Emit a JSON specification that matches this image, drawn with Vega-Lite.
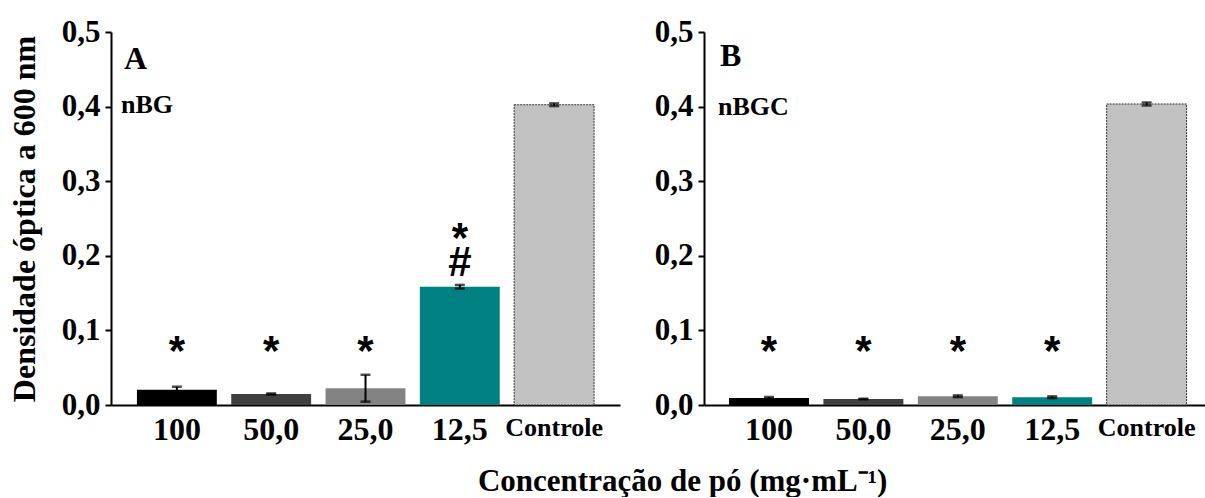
{
  "$schema": "https://vega.github.io/schema/vega-lite/v6.json",
  "padding": {"left": 8, "top": 16, "right": 0, "bottom": 0},
  "background": "white",
  "config": {
    "font": "Liberation Serif",
    "view": {"stroke": null},
    "axis": {
      "grid": false,
      "domainColor": "black",
      "domainWidth": 2,
      "tickColor": "black",
      "tickWidth": 2,
      "labelColor": "black",
      "titleColor": "black",
      "labelFont": "Liberation Serif",
      "titleFont": "Liberation Serif",
      "labelFontWeight": "bold",
      "titleFontWeight": "bold"
    },
    "title": {"font": "Liberation Serif", "fontWeight": "bold", "color": "black"}
  },
  "datasets": {
    "barsA": [
      {"conc": "100", "mean": 0.0205, "err": 0.004},
      {"conc": "50,0", "mean": 0.0147, "err": 0.0008},
      {"conc": "25,0", "mean": 0.0225, "err": 0.018},
      {"conc": "12,5", "mean": 0.1585, "err": 0.0025},
      {"conc": "Controle", "mean": 0.4025, "err": 0.0018}
    ],
    "barsB": [
      {"conc": "100", "mean": 0.0095, "err": 0.0012},
      {"conc": "50,0", "mean": 0.008, "err": 0.0004},
      {"conc": "25,0", "mean": 0.0117, "err": 0.0012},
      {"conc": "12,5", "mean": 0.0104, "err": 0.0012},
      {"conc": "Controle", "mean": 0.4035, "err": 0.002}
    ],
    "marksA": [
      {"conc": "100", "sym": "*", "pos": 0.079},
      {"conc": "50,0", "sym": "*", "pos": 0.079},
      {"conc": "25,0", "sym": "*", "pos": 0.079},
      {"conc": "12,5", "sym": "*", "pos": 0.231},
      {"conc": "12,5", "sym": "#", "pos": 0.199}
    ],
    "marksB": [
      {"conc": "100", "sym": "*", "pos": 0.079},
      {"conc": "50,0", "sym": "*", "pos": 0.079},
      {"conc": "25,0", "sym": "*", "pos": 0.079},
      {"conc": "12,5", "sym": "*", "pos": 0.079}
    ]
  },
  "title": {
    "text": "Concentração de pó (mg·mL⁻¹)",
    "orient": "bottom",
    "anchor": "middle",
    "fontSize": 31,
    "offset": 22,
    "dx": 76
  },
  "spacing": 34,
  "hconcat": [
    {
      "width": 509,
      "height": 373,
      "encoding": {
        "x": {
          "field": "conc", "type": "nominal",
          "sort": ["100", "50,0", "25,0", "12,5", "Controle"],
          "scale": {"paddingInner": 0.153, "paddingOuter": 0.275},
          "axis": {"title": null, "ticks": false, "tickSize": 0, "labelPadding": 9, "labelAngle": 0, "labelFontSize": {"condition": {"test": "datum.value == 'Controle'", "value": 26}, "value": 32}}
        }
      },
      "layer": [
        {
          "data": {"name": "barsA"},
          "mark": {"type": "bar"},
          "encoding": {
            "y": {"field": "mean", "type": "quantitative", "scale": {"domain": [0, 0.5]}, "title": "Densidade óptica a 600 nm",
              "axis": {"titleFontSize": 32, "titlePadding": 20, "labelFontSize": 31, "tickSize": 6, "labelPadding": 5, "values": [0, 0.1, 0.2, 0.3, 0.4, 0.5], "format": ".1f", "labelExpr": "replace(datum.label, '.', ',')"}},
            "color": {"field": "conc", "type": "nominal", "legend": null,
              "scale": {"domain": ["100", "50,0", "25,0", "12,5", "Controle"], "range": ["#000000", "#404040", "#838383", "#008080", "#c2c2c2"]}},
            "stroke": {"condition": {"test": "datum.conc == 'Controle'", "value": "#333333"}, "value": null},
            "strokeDash": {"condition": {"test": "datum.conc == 'Controle'", "value": [2, 1]}, "value": [1, 0]}
          }
        },
        {
          "data": {"name": "barsA"},
          "mark": {"type": "errorbar", "color": "black", "ticks": {"size": 10, "thickness": 2.5, "color": "black"}, "rule": {"strokeWidth": 2, "color": "black"}},
          "encoding": {
            "y": {"field": "mean", "type": "quantitative", "title": "Densidade óptica a 600 nm"},
            "yError": {"field": "err"}
          }
        },
        {
          "data": {"name": "marksA"},
          "mark": {"type": "text", "font": "Liberation Sans", "fontWeight": "bold", "fontSize": 42, "baseline": "middle", "dy": 6, "color": "black"},
          "encoding": {
            "y": {"field": "pos", "type": "quantitative", "title": "Densidade óptica a 600 nm"},
            "text": {"field": "sym"}
          }
        },
        {
          "data": {"values": [{"t": "A"}]},
          "mark": {"type": "text", "font": "Liberation Serif", "fontWeight": "bold", "fontSize": 32, "align": "left", "baseline": "alphabetic", "dx": -13, "color": "black"},
          "encoding": {
            "x": {"datum": "100", "bandPosition": 0},
            "y": {"datum": 0.451},
            "text": {"field": "t"}
          }
        },
        {
          "data": {"values": [{"t": "nBG"}]},
          "mark": {"type": "text", "font": "Liberation Serif", "fontWeight": "bold", "fontSize": 26, "align": "left", "baseline": "alphabetic", "dx": -16, "color": "black"},
          "encoding": {
            "x": {"datum": "100", "bandPosition": 0},
            "y": {"datum": 0.391},
            "text": {"field": "t"}
          }
        }
      ]
    },
    {
      "width": 501,
      "height": 373,
      "encoding": {
        "x": {
          "field": "conc", "type": "nominal",
          "sort": ["100", "50,0", "25,0", "12,5", "Controle"],
          "scale": {"paddingInner": 0.153, "paddingOuter": 0.23, "align": 0.576},
          "axis": {"title": null, "ticks": false, "tickSize": 0, "labelPadding": 9, "labelAngle": 0, "labelFontSize": {"condition": {"test": "datum.value == 'Controle'", "value": 26}, "value": 32}}
        }
      },
      "layer": [
        {
          "data": {"name": "barsB"},
          "mark": {"type": "bar"},
          "encoding": {
            "y": {"field": "mean", "type": "quantitative", "scale": {"domain": [0, 0.5]}, "title": null,
              "axis": {"labelFontSize": 31, "tickSize": 6, "labelPadding": 5, "values": [0, 0.1, 0.2, 0.3, 0.4, 0.5], "format": ".1f", "labelExpr": "replace(datum.label, '.', ',')"}},
            "color": {"field": "conc", "type": "nominal", "legend": null,
              "scale": {"domain": ["100", "50,0", "25,0", "12,5", "Controle"], "range": ["#000000", "#404040", "#838383", "#008080", "#c2c2c2"]}},
            "stroke": {"condition": {"test": "datum.conc == 'Controle'", "value": "#333333"}, "value": null},
            "strokeDash": {"condition": {"test": "datum.conc == 'Controle'", "value": [2, 1]}, "value": [1, 0]}
          }
        },
        {
          "data": {"name": "barsB"},
          "mark": {"type": "errorbar", "color": "black", "ticks": {"size": 10, "thickness": 2.5, "color": "black"}, "rule": {"strokeWidth": 2, "color": "black"}},
          "encoding": {
            "y": {"field": "mean", "type": "quantitative", "title": null},
            "yError": {"field": "err"}
          }
        },
        {
          "data": {"name": "marksB"},
          "mark": {"type": "text", "font": "Liberation Sans", "fontWeight": "bold", "fontSize": 42, "baseline": "middle", "dy": 6, "color": "black"},
          "encoding": {
            "y": {"field": "pos", "type": "quantitative", "title": null},
            "text": {"field": "sym"}
          }
        },
        {
          "data": {"values": [{"t": "B"}]},
          "mark": {"type": "text", "font": "Liberation Serif", "fontWeight": "bold", "fontSize": 32, "align": "left", "baseline": "alphabetic", "dx": -9, "color": "black"},
          "encoding": {
            "x": {"datum": "100", "bandPosition": 0},
            "y": {"datum": 0.454},
            "text": {"field": "t"}
          }
        },
        {
          "data": {"values": [{"t": "nBGC"}]},
          "mark": {"type": "text", "font": "Liberation Serif", "fontWeight": "bold", "fontSize": 26, "align": "left", "baseline": "alphabetic", "dx": -11, "color": "black"},
          "encoding": {
            "x": {"datum": "100", "bandPosition": 0},
            "y": {"datum": 0.389},
            "text": {"field": "t"}
          }
        }
      ],
      "resolve": {"scale": {"color": "independent"}}
    }
  ],
  "resolve": {"scale": {"color": "independent"}}
}
